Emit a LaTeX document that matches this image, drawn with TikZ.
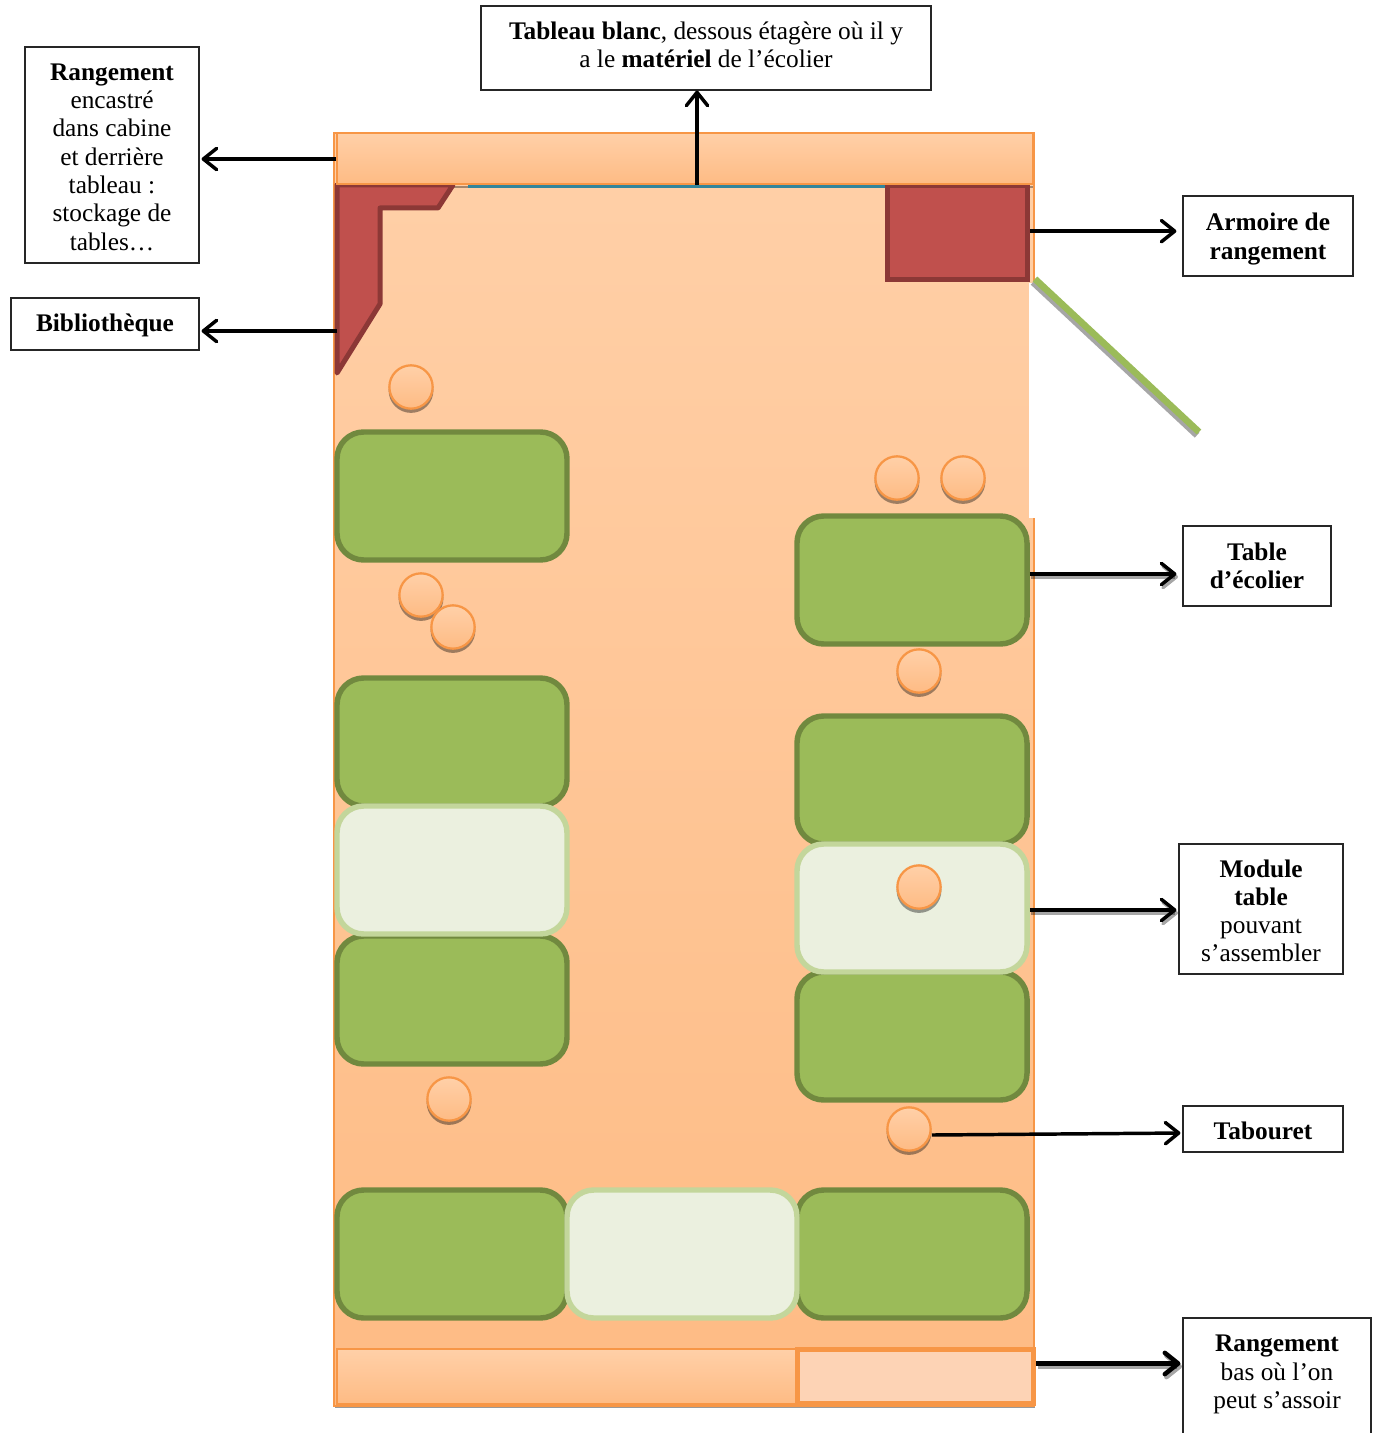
\documentclass[tikz,border=0pt]{standalone}
\usepackage{fontspec}
\setmainfont{Liberation Serif}
\usetikzlibrary{arrows.meta,calc}
\definecolor{roomA}{HTML}{FFD0A8}
\definecolor{roomB}{HTML}{FEBB84}
\definecolor{orangeL}{HTML}{F79646}
\definecolor{greenF}{HTML}{9BBB59}
\definecolor{greenD}{HTML}{71893F}
\definecolor{paleF}{HTML}{EBF0DF}
\definecolor{paleD}{HTML}{C3D69B}
\definecolor{redF}{HTML}{C0504D}
\definecolor{redD}{HTML}{8C3836}
\definecolor{teal1}{HTML}{31859C}
\definecolor{seatF}{HTML}{FDD3B5}
\tikzset{
  x=0.75pt,y=-0.75pt,
  labelbox/.style={draw=black!85,line width=0.9pt,fill=white,align=center,inner sep=0pt,
    font=\fontsize{19}{21.2}\selectfont},
  tablebox/.style={rectangle,rounded corners=20pt,draw=greenD,fill=greenF,line width=4.1pt,
    minimum width=172.5pt,minimum height=96pt,inner sep=0pt},
  modulebox/.style={tablebox,draw=paleD,fill=paleF},
  stoolnode/.style={circle,draw=orangeL,line width=1.7pt,top color=roomA,bottom color=roomB,
    minimum size=32.5pt,inner sep=0pt},
  barbox/.style={rectangle,draw=orangeL,line width=1.2pt,top color=roomA,bottom color=roomB,inner sep=0pt},
  arr/.style={line width=2.6pt,-{Straight Barb[length=10pt,width=16pt,round]}},
  arrbig/.style={line width=3.4pt,-{Straight Barb[length=10pt,width=16pt,round]}},
  shad/.style={draw=black,opacity=0.35,transform canvas={shift={(1.2pt,-2.2pt)}}},
}
\newcommand{\stoolat}[3]{%
  \fill[black,opacity=0.38] (#2,#3+3.5) circle (16.8pt);
  \node[stoolnode] (#1) at (#2,#3) {};}
\newcommand{\hgt}[1]{\rule{0pt}{#1}}
\newcommand{\dpt}[1]{\rule[-#1]{0pt}{#1}}
\begin{document}
\begin{tikzpicture}
\clip (0,0) rectangle (1375,1433);
\fill[white] (0,0) rectangle (1375,1433);
% room
\fill[black,opacity=0.4] (335,1400) rectangle (1035,1408);
\node[rectangle,draw=orangeL,line width=1.5pt,top color=roomA,bottom color=roomB,
  minimum width=525pt,minimum height=954.5pt,inner sep=0pt] (room) at (684,769.5) {};
\fill[white] (1029,283) rectangle (1037,518);
% door
\coordinate (doorA) at (1035,279);
\coordinate (doorB) at (1199,432);
\draw[line width=5pt,black!35] ([shift={(-1.5pt,-2.4pt)}]doorA) -- ([shift={(-1.5pt,-2.4pt)}]doorB);
\draw[line width=5pt,greenF] (doorA) -- (doorB);
% library
\fill[black,opacity=0.35] (337,186) rectangle (1033,188);
\draw[draw=redD,fill=redF,line width=3.75pt,line join=round]
  (337,185) -- (453,185) -- (438,208) -- (380,208) -- (380,304) -- (337,373) -- cycle;
% armoire
\node[rectangle,draw=redD,fill=redF,line width=3.75pt,minimum width=105pt,minimum height=71pt,inner sep=0pt]
  (armoire) at (957.5,232.5) {};
% whiteboard
\node[rectangle,fill=teal1,minimum width=312.75pt,minimum height=3pt,inner sep=0pt] (board) at (676.5,186) {};
% top bar
\node[barbox,minimum width=522pt,minimum height=38.5pt] (topbar) at (685,158.5) {};
% bottom bars
\node[barbox,minimum width=344pt,minimum height=41.5pt] (lowbar) at (566.5,1376.5) {};
\node[rectangle,draw=orangeL,fill=seatF,line width=3.75pt,minimum width=177pt,minimum height=40.5pt,inner sep=0pt]
  (lowseat) at (915.5,1376.5) {};
% tables
\node[tablebox] (L1) at (452,496) {};
\node[tablebox] (L2) at (452,742) {};
\node[tablebox] (L3) at (452,1000) {};
\node[modulebox] (L4) at (452,870) {};
\node[tablebox] (R1) at (912,580) {};
\node[tablebox] (R2) at (912,780) {};
\node[tablebox] (R3) at (912,1036) {};
\node[modulebox] (R4) at (912,908) {};
\node[tablebox] (B1) at (452,1254) {};
\node[tablebox] (B3) at (912,1254) {};
\node[modulebox] (B2) at (682,1254) {};
% stools
\stoolat{s1}{411}{387}
\stoolat{s2}{897}{478}
\stoolat{s3}{963}{478}
\stoolat{s4}{421}{595}
\stoolat{s5}{453}{627}
\stoolat{s6}{919}{671}
\stoolat{s7}{919}{887}
\stoolat{s8}{449}{1099}
\stoolat{s9}{909}{1129}
% labels
\node[labelbox,minimum width=337.5pt,minimum height=63pt] (ltab) at (706,48)
  {\textbf{Tableau blanc}, dessous étagère où il y\\a le \textbf{matériel} de l’écolier\dpt{4.5pt}};
\node[labelbox,minimum width=130.5pt,minimum height=162pt] (lran) at (112,155)
  {\hgt{15.6pt}\textbf{Rangement}\\encastré\\dans cabine\\et derrière\\tableau :\\stockage de\\tables…};
\node[labelbox,minimum width=141pt,minimum height=39pt] (lbib) at (105,324) {\hgt{16pt}\textbf{Bibliothèque}};
\node[labelbox,minimum width=127.5pt,minimum height=60pt] (larm) at (1268,236) {\hgt{17.5pt}\textbf{Armoire de}\\\textbf{rangement}};
\node[labelbox,minimum width=111pt,minimum height=60pt] (ltable) at (1257,566) {\textbf{Table}\\\textbf{d’écolier}};
\node[labelbox,minimum width=123pt,minimum height=97.5pt] (lmod) at (1261,909) {\hgt{16pt}\textbf{Module}\\\textbf{table}\\pouvant\\s’assembler};
\node[labelbox,minimum width=120pt,minimum height=34.5pt] (ltabou) at (1263,1129) {\hgt{16pt}\textbf{Tabouret}};
\node[labelbox,minimum width=141pt,minimum height=102pt] (lbas) at (1277,1386)
  {\hgt{18.6pt}\textbf{Rangement}\\bas où l’on\\peut s’assoir\\\strut};
% connectors
\coordinate (wb) at (697,185);
\coordinate (bib) at (337,331);
\draw[arr] (wb) -- (wb |- ltab.south);
\draw[arr,shorten >=1.5pt] ([yshift=-0.4pt]topbar.west) -- ([yshift=-0.4pt]topbar.west -| lran.east);
\draw[arr,shorten >=1.5pt] (bib) -- (bib -| lbib.east);
\draw[arr,shorten >=4.5pt] ([yshift=1pt]armoire.east) -- ([yshift=1pt]armoire.east -| larm.west);
\draw[arr,shad,shorten >=4.5pt] ([yshift=4.5pt]R1.east) -- ([yshift=4.5pt]R1.east -| ltable.west);
\draw[arr,shorten >=4.5pt] ([yshift=4.5pt]R1.east) -- ([yshift=4.5pt]R1.east -| ltable.west);
\draw[arr,shad,shorten >=1.5pt] ([yshift=-1.5pt]R4.east) -- ([yshift=-1.5pt]R4.east -| lmod.west);
\draw[arr,shorten >=1.5pt] ([yshift=-1.5pt]R4.east) -- ([yshift=-1.5pt]R4.east -| lmod.west);
\draw[arr,shorten >=1.5pt] ([yshift=-4.5pt]s9.east) -- ([yshift=-3pt]s9.east -| ltabou.west);
\draw[arrbig,shad,shorten >=1.5pt] ([yshift=9.75pt]lowseat.east) -- ([yshift=9.75pt]lowseat.east -| lbas.west);
\draw[arrbig,shorten >=1.5pt] ([yshift=9.75pt]lowseat.east) -- ([yshift=9.75pt]lowseat.east -| lbas.west);
\end{tikzpicture}
\end{document}
